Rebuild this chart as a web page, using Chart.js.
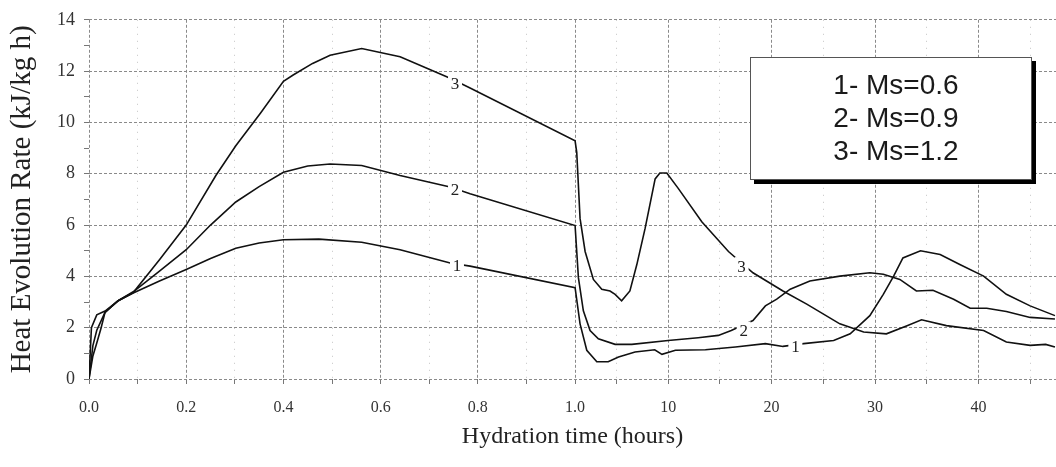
<!DOCTYPE html>
<html>
<head>
<meta charset="utf-8">
<script src="https://cdn.jsdelivr.net/npm/chart.js@4.4.1/dist/chart.umd.min.js"></script>
<style>
  html, body { margin: 0; padding: 0; background: #fff; }
  #wrap { width: 1056px; height: 467px; position: relative; }
</style>
</head>
<body>
<div id="wrap"><canvas id="heatChart"></canvas></div>
<script>
// hours and heat evolution rate (kJ/kg h)
const hours1 = [0, 0.005, 0.016, 0.033, 0.06, 0.091, 0.145, 0.2, 0.25, 0.302, 0.35, 0.4, 0.473, 0.561, 0.64, 0.743, 0.784, 1.0,
  1.48, 2.13, 3.1, 4.2, 5.2, 6.8, 8.7, 9.4, 10.7, 13.6, 16.5, 19.4, 21.1, 23.1, 26, 27.6, 29.5, 30.8, 31.8, 32.7, 34.4, 36.3, 38.2, 40.5, 42.7, 45, 47.4];
const rate1 = [0, 2.0, 2.5, 2.65, 3.05, 3.35, 3.82, 4.27, 4.7, 5.1, 5.3, 5.43, 5.45, 5.33, 5.04, 4.52, 4.4, 3.56,
  2.15, 1.12, 0.67, 0.67, 0.86, 1.05, 1.14, 0.96, 1.12, 1.14, 1.25, 1.38, 1.27, 1.38, 1.5, 1.76, 2.47, 3.3, 4.01, 4.72, 5.0, 4.85, 4.46, 4.01, 3.3, 2.85, 2.47];

const hours2 = [0, 0.008, 0.016, 0.033, 0.06, 0.091, 0.145, 0.2, 0.25, 0.302, 0.35, 0.4, 0.45, 0.496, 0.561, 0.64, 0.743, 0.784, 1.0,
  1.32, 1.8, 2.45, 3.25, 4.87, 6.48, 10, 12.9, 14.85, 16.1, 18.2, 19.4, 20.5, 21.8, 23.7, 26.6, 29.5, 30.8, 32.4, 34.0, 35.6, 37.6, 39.2, 40.8, 42.7, 45, 47.4];
const rate2 = [0, 1.3, 1.9, 2.6, 3.05, 3.4, 4.2, 5.04, 6.0, 6.9, 7.5, 8.06, 8.3, 8.38, 8.32, 7.93, 7.48, 7.22, 5.98,
  3.95, 2.66, 1.89, 1.57, 1.35, 1.35, 1.5, 1.61, 1.7, 1.89, 2.28, 2.85, 3.11, 3.5, 3.82, 4.01, 4.14, 4.08, 3.88, 3.43, 3.46, 3.11, 2.76, 2.76, 2.63, 2.4, 2.34];

const hours3 = [0, 0.008, 0.016, 0.025, 0.033, 0.06, 0.091, 0.145, 0.2, 0.261, 0.302, 0.353, 0.4, 0.42, 0.46, 0.496, 0.561, 0.64, 0.743, 0.784, 1.0,
  1.16, 1.48, 1.97, 2.77, 3.58, 4.38, 4.87, 5.5, 6.3, 6.97, 7.77, 8.74, 9.2, 9.87, 10.99, 13.25, 15.83, 18.2, 21.1, 23.4, 26.6, 28.9, 31.1, 33.1, 34.5, 36.9, 40.5, 42.7, 45, 46.5, 47.4];
const rate3 = [0, 0.9, 1.4, 2.0, 2.6, 3.05, 3.37, 4.65, 6.0, 7.93, 9.09, 10.37, 11.6, 11.85, 12.3, 12.62, 12.88, 12.56, 11.72, 11.34, 9.28,
  8.83, 6.26, 4.97, 3.88, 3.5, 3.43, 3.3, 3.05, 3.43, 4.46, 5.87, 7.8, 8.03, 8.03, 7.42, 6.13, 4.97, 4.14, 3.43, 2.92, 2.15, 1.83, 1.76, 2.08, 2.31, 2.08, 1.89, 1.44, 1.31, 1.35, 1.25];

const xTickHours = [0, 0.2, 0.4, 0.6, 0.8, 1.0, 10, 20, 30, 40];
const xTickLabels = ['0.0', '0.2', '0.4', '0.6', '0.8', '1.0', '10', '20', '30', '40'];
const xMinorHours = [0.1, 0.3, 0.5, 0.7, 0.9, 5, 15, 25, 35, 45];

const legendLines = ['1- Ms=0.6', '2- Ms=0.9', '3- Ms=1.2'];

// inline curve labels: [text, hours, rate]
const curveLabels = [
  ['3', 0.753, 11.53], ['2', 0.753, 7.37], ['1', 0.757, 4.44],
  ['3', 17.1, 4.4], ['2', 17.3, 1.89], ['1', 22.3, 1.27]
];

// the axis is split: 0-1 h on the left half, 1-48 h squeezed on the right
const hoursPerUnit = 47;
function toAxis(h) {
  return h <= 1 ? h : 1 + (h - 1) / hoursPerUnit;
}

function points(hours, rate) {
  return hours.map((h, i) => ({ x: toAxis(h), y: rate[i] }));
}

const majorU = xTickHours.map(toAxis);
const minorU = xMinorHours.map(toAxis);

const curveLabelPlugin = {
  id: 'curveLabels',
  afterDatasetsDraw: function (chart) {
    const ctx = chart.ctx;
    const xs = chart.scales.x, ys = chart.scales.y;
    ctx.save();
    ctx.font = '17px "Liberation Serif", "Times New Roman", serif';
    ctx.textAlign = 'center';
    ctx.textBaseline = 'middle';
    curveLabels.forEach(function (lb) {
      const px = xs.getPixelForValue(toAxis(lb[1]));
      const py = ys.getPixelForValue(lb[2]);
      ctx.fillStyle = '#fff';
      ctx.fillRect(px - 7, py - 9, 14, 18);
      ctx.fillStyle = '#222';
      ctx.fillText(lb[0], px, py + 1);
    });
    ctx.restore();
  }
};

const legendBoxPlugin = {
  id: 'legendBox',
  afterDraw: function (chart) {
    const ctx = chart.ctx;
    const left = 750, top = 57, w = 282, h = 123;
    ctx.save();
    ctx.fillStyle = '#000';
    ctx.fillRect(left + 4, top + 4, w, h);
    ctx.fillStyle = '#fff';
    ctx.fillRect(left, top, w, h);
    ctx.strokeStyle = '#555';
    ctx.lineWidth = 1;
    ctx.strokeRect(left + 0.5, top + 0.5, w - 1, h - 1);
    ctx.fillStyle = '#1a1a1a';
    ctx.font = '28px "Liberation Sans", Arial, sans-serif';
    ctx.textAlign = 'center';
    ctx.textBaseline = 'middle';
    legendLines.forEach(function (t, i) {
      ctx.fillText(t, left + w / 2 + 5, top + 29 + i * 33);
    });
    ctx.restore();
  }
};

const lineStyle = {
  borderColor: '#111',
  borderWidth: 1.6,
  pointRadius: 0,
  tension: 0,
  fill: false
};

new Chart(document.getElementById('heatChart'), {
  type: 'line',
  data: {
    datasets: [
      Object.assign({ label: 'Ms=0.6', data: points(hours1, rate1) }, lineStyle),
      Object.assign({ label: 'Ms=0.9', data: points(hours2, rate2) }, lineStyle),
      Object.assign({ label: 'Ms=1.2', data: points(hours3, rate3) }, lineStyle)
    ]
  },
  options: {
    responsive: true,
    maintainAspectRatio: false,
    animation: false,
    layout: { padding: { top: 16, right: 0, bottom: 0, left: 0 } },
    plugins: {
      legend: { display: false },
      tooltip: { enabled: false }
    },
    scales: {
      x: {
        type: 'linear',
        min: 0,
        max: toAxis(47.5),
        afterBuildTicks: function (scale) {
          scale.ticks = majorU.concat(minorU).sort((a, b) => a - b).map(v => ({ value: v }));
        },
        afterFit: function (scale) { scale.height = 88; },
        ticks: {
          autoSkip: false,
          maxRotation: 0,
          padding: 14,
          color: '#333',
          font: { family: '"Liberation Serif", "Times New Roman", serif', size: 16 },
          callback: function (value) {
            const i = majorU.findIndex(u => Math.abs(u - value) < 1e-6);
            return i >= 0 ? xTickLabels[i] : '';
          }
        },
        grid: {
          color: function (c) {
            const v = c.tick ? c.tick.value : 0;
            return majorU.some(u => Math.abs(u - v) < 1e-6) ? '#8a8a8a' : '#c4c4c4';
          },
          tickColor: '#777',
          tickLength: 5,
          lineWidth: 1
        },
        border: {
          display: false,
          dash: function (c) {
            const v = c.tick ? c.tick.value : 0;
            return majorU.some(u => Math.abs(u - v) < 1e-6) ? [3, 2] : [1, 6];
          }
        },
        title: {
          display: true,
          text: 'Hydration time (hours)',
          color: '#222',
          font: { family: '"Liberation Serif", "Times New Roman", serif', size: 24 },
          padding: { top: 0, bottom: 16 }
        }
      },
      y: {
        min: 0,
        max: 14,
        afterFit: function (scale) { scale.width = 89; },
        ticks: {
          stepSize: 1,
          padding: 9,
          color: '#333',
          font: { family: '"Liberation Serif", "Times New Roman", serif', size: 18 },
          callback: function (value) { return value % 2 === 0 ? value : ''; }
        },
        grid: {
          color: function (c) {
            const v = c.tick ? c.tick.value : 0;
            return v % 2 === 0 ? '#8a8a8a' : 'rgba(0,0,0,0)';
          },
          tickColor: '#777',
          tickLength: 5,
          lineWidth: 1
        },
        border: { display: false, dash: [3, 2] },
        title: {
          display: true,
          text: 'Heat Evolution Rate (kJ/kg h)',
          color: '#222',
          font: { family: '"Liberation Serif", "Times New Roman", serif', size: 29 },
          padding: { top: 5, bottom: 0 }
        }
      }
    }
  },
  plugins: [curveLabelPlugin, legendBoxPlugin]
});
</script>
</body>
</html>
